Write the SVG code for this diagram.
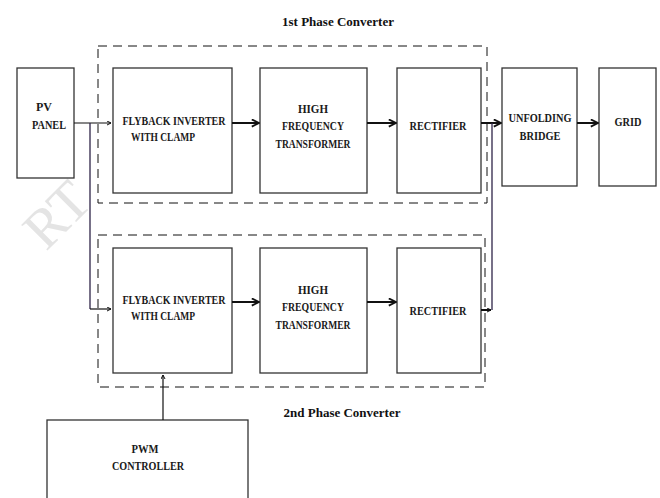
<svg xmlns="http://www.w3.org/2000/svg" width="660" height="498" viewBox="0 0 660 498">
<style>
.box{fill:#fff;stroke:#333;stroke-width:1.3}
.dash{fill:none;stroke:#111;stroke-width:1;stroke-dasharray:9,6}
.lbl{font-family:"Liberation Serif","DejaVu Serif",serif;font-weight:bold;font-size:12px;fill:#1a1a1a;text-anchor:middle}
.ttl{font-family:"Liberation Serif","DejaVu Serif",serif;font-weight:bold;font-size:13px;fill:#111;text-anchor:middle}
.arr{fill:none;stroke:#111;stroke-width:2}
.thin{fill:none;stroke:#111;stroke-width:1.2}
.purp{fill:none;stroke:#2e2448;stroke-width:1.3}
.wm{font-family:"Liberation Serif",serif;font-size:56px;fill:#e4e4e4}
</style>
<defs>
<marker id="ah" viewBox="0 0 10 10" refX="9" refY="5" markerWidth="5" markerHeight="5" orient="auto" markerUnits="userSpaceOnUse"><path d="M1,1 L9,5 L1,9" fill="none" stroke="#111" stroke-width="2"/></marker>
<marker id="ah2" viewBox="0 0 10 10" refX="9" refY="5" markerWidth="9" markerHeight="9" orient="auto" markerUnits="userSpaceOnUse"><path d="M1,1 L9,5 L1,9" fill="none" stroke="#111" stroke-width="2"/></marker>
</defs>
<rect width="660" height="498" fill="#fff"/>
<text class="wm" transform="translate(46,252) rotate(-45)">RT</text>

<g id="phase1-frame">
<rect class="dash" x="98" y="46" width="389" height="157"/>
<text class="ttl" x="338" y="26">1st Phase Converter</text>
</g>
<g id="phase2-frame">
<rect class="dash" x="98" y="235" width="387" height="152"/>
<text class="ttl" x="342" y="417">2nd Phase Converter</text>
</g>

<g id="pv">
<rect class="box" x="17" y="68" width="57" height="110"/>
<text class="lbl" x="44" y="111">PV</text>
<text class="lbl" x="49" y="129" textLength="34" lengthAdjust="spacingAndGlyphs">PANEL</text>
</g>
<g id="flyback1">
<rect class="box" x="113" y="68" width="119" height="125"/>
<text class="lbl" x="174" y="125" textLength="103" lengthAdjust="spacingAndGlyphs">FLYBACK INVERTER</text>
<text class="lbl" x="163" y="141" textLength="64" lengthAdjust="spacingAndGlyphs">WITH CLAMP</text>
</g>
<g id="hf1">
<rect class="box" x="260" y="68" width="107" height="125"/>
<text class="lbl" x="313" y="113" textLength="30" lengthAdjust="spacingAndGlyphs">HIGH</text>
<text class="lbl" x="313" y="130" textLength="62" lengthAdjust="spacingAndGlyphs">FREQUENCY</text>
<text class="lbl" x="313" y="148" textLength="75" lengthAdjust="spacingAndGlyphs">TRANSFORMER</text>
</g>
<g id="rect1">
<rect class="box" x="397" y="68" width="84" height="125"/>
<text class="lbl" x="438" y="130" textLength="57" lengthAdjust="spacingAndGlyphs">RECTIFIER</text>
</g>
<g id="unfold">
<rect class="box" x="502" y="68" width="75" height="118"/>
<text class="lbl" x="540" y="122" textLength="63" lengthAdjust="spacingAndGlyphs">UNFOLDING</text>
<text class="lbl" x="540" y="140" textLength="41" lengthAdjust="spacingAndGlyphs">BRIDGE</text>
</g>
<g id="grid">
<rect class="box" x="599" y="68" width="57" height="118"/>
<text class="lbl" x="628" y="126" textLength="27" lengthAdjust="spacingAndGlyphs">GRID</text>
</g>
<g id="flyback2">
<rect class="box" x="113" y="248" width="119" height="125"/>
<text class="lbl" x="174" y="304" textLength="103" lengthAdjust="spacingAndGlyphs">FLYBACK INVERTER</text>
<text class="lbl" x="163" y="320" textLength="64" lengthAdjust="spacingAndGlyphs">WITH CLAMP</text>
</g>
<g id="hf2">
<rect class="box" x="260" y="248" width="107" height="125"/>
<text class="lbl" x="313" y="294" textLength="30" lengthAdjust="spacingAndGlyphs">HIGH</text>
<text class="lbl" x="313" y="311" textLength="62" lengthAdjust="spacingAndGlyphs">FREQUENCY</text>
<text class="lbl" x="313" y="329" textLength="75" lengthAdjust="spacingAndGlyphs">TRANSFORMER</text>
</g>
<g id="rect2">
<rect class="box" x="397" y="248" width="84" height="125"/>
<text class="lbl" x="438" y="315" textLength="57" lengthAdjust="spacingAndGlyphs">RECTIFIER</text>
</g>
<g id="pwm">
<rect class="box" x="47" y="420" width="201" height="90"/>
<text class="lbl" x="145" y="453" textLength="27" lengthAdjust="spacingAndGlyphs">PWM</text>
<text class="lbl" x="148" y="470" textLength="72" lengthAdjust="spacingAndGlyphs">CONTROLLER</text>
</g>

<g id="connectors">
<path class="thin" d="M74,123 H111" marker-end="url(#ah)"/>
<path class="purp" d="M90,123 V309"/>
<path class="thin" d="M90,309 H111" marker-end="url(#ah)"/>
<path class="arr" d="M232,123 H259" marker-end="url(#ah2)"/>
<path class="arr" d="M367,123 H396" marker-end="url(#ah2)"/>
<path class="arr" d="M481,123 H501" marker-end="url(#ah2)"/>
<path class="arr" d="M577,123 H598" marker-end="url(#ah2)"/>
<path class="arr" d="M232,302 H259" marker-end="url(#ah2)"/>
<path class="arr" d="M367,302 H396" marker-end="url(#ah2)"/>
<path class="arr" d="M481,310 H491" marker-end="url(#ah)"/>
<path class="purp" d="M492,123 V310"/>
<path class="thin" d="M163,420 V375" marker-end="url(#ah)"/>
</g>
</svg>
